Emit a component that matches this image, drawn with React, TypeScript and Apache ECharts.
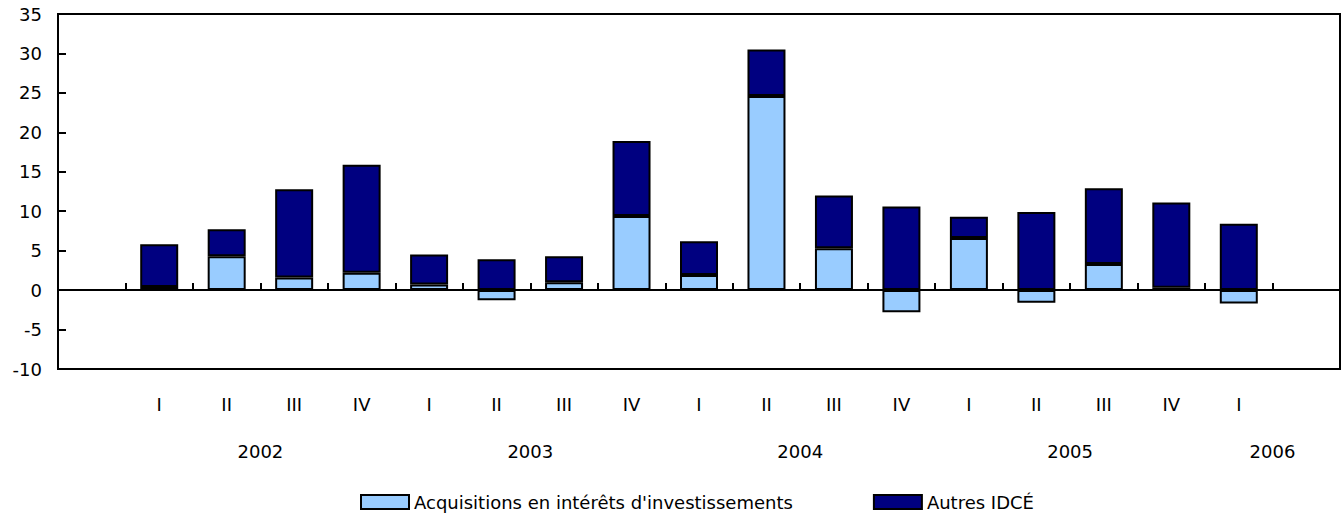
import React, { useEffect, useRef } from "react";
import * as echarts from "echarts";

const CATEGORIES = ["I", "II", "III", "IV", "I", "II", "III", "IV", "I", "II", "III", "IV", "I", "II", "III", "IV", "I"];
const YEARS = ["2002", "2003", "2004", "2005", "2006"];
const QUARTERS_PER_YEAR = [4, 4, 4, 4, 1];
const ACQUISITIONS = [0.4, 4.3, 1.6, 2.2, 0.7, -1.3, 1.0, 9.4, 1.9, 24.6, 5.3, -2.8, 6.6, -1.6, 3.3, 0.3, -1.7];
const AUTRES = [5.4, 3.4, 11.2, 13.7, 3.8, 3.9, 3.3, 9.5, 4.3, 5.9, 6.7, 10.6, 2.7, 9.9, 9.6, 10.8, 8.4];
const SERIES_NAMES = ["Acquisitions en intérêts d'investissements", "Autres IDCÉ"];
const Y_MIN = -10;
const Y_MAX = 35;
const Y_STEP = 5;

const FONT = "DejaVu Sans";
const FS = 18;

export default function App() {
  const ref = useRef<HTMLDivElement>(null);

  useEffect(() => {
    document.body.style.margin = "0";
    const chart = echarts.init(ref.current!, null, { renderer: "svg" });

    const pad = 1;
    const cats = ["", ...CATEGORIES, ""];
    const total = cats.length;
    const padData = (arr: number[]) => ["-", ...arr, "-"];

    // year label centres on a value axis spanning the category count
    const yearCentres: { pos: number; label: string }[] = [];
    let start = pad;
    QUARTERS_PER_YEAR.forEach((n, i) => {
      const end = i === QUARTERS_PER_YEAR.length - 1 ? total : start + n;
      yearCentres.push({ pos: (start + end) / 2, label: YEARS[i] });
      start += n;
    });

    chart.setOption({
      animation: false,
      textStyle: { fontFamily: FONT, color: "#000" },
      grid: {
        left: 58,
        right: 2,
        top: 14,
        bottom: 145,
        show: true,
        borderColor: "#000",
        borderWidth: 2,
      },
      legend: {
        left: 355,
        top: 488,
        itemWidth: 48,
        itemHeight: 14,
        itemGap: 80,
        icon: "rect",
        textStyle: { fontFamily: FONT, fontSize: FS, color: "#000" },
        data: SERIES_NAMES,
      },
      xAxis: [
        {
          type: "category",
          data: cats,
          boundaryGap: true,
          axisLine: { show: true, lineStyle: { color: "#000", width: 2 } },
          axisTick: { show: true, inside: true, length: 7, interval: 0, lineStyle: { color: "#000", width: 2 } },
          axisLabel: { interval: 0, margin: 26, fontFamily: FONT, fontSize: FS, color: "#000" },
          splitLine: { show: false },
        },
        {
          type: "value",
          position: "bottom",
          min: 0,
          max: total,
          interval: 0.5,
          axisLine: { show: false },
          axisTick: { show: false },
          splitLine: { show: false },
          axisLabel: {
            margin: 73,
            fontFamily: FONT,
            fontSize: FS,
            color: "#000",
            showMinLabel: true,
            showMaxLabel: true,
            formatter: (v: number) => {
              const f = yearCentres.find((y) => Math.abs(y.pos - v) < 0.01);
              return f ? f.label : "";
            },
          },
        },
      ],
      yAxis: {
        type: "value",
        min: Y_MIN,
        max: Y_MAX,
        interval: Y_STEP,
        axisLine: { show: true, lineStyle: { color: "#000", width: 2 } },
        axisTick: { show: true, inside: true, length: 8, lineStyle: { color: "#000", width: 2 } },
        axisLabel: { margin: 16, fontFamily: FONT, fontSize: FS, color: "#000" },
        splitLine: { show: false },
      },
      series: [
        {
          name: SERIES_NAMES[0],
          type: "bar",
          stack: "total",
          xAxisIndex: 0,
          barWidth: 38,
          data: padData(ACQUISITIONS),
          itemStyle: { color: "#99CCFF", borderColor: "#000", borderWidth: 2 },
          markLine: {
            silent: true,
            symbol: "none",
            label: { show: false },
            lineStyle: { color: "#000", width: 2, type: "solid" },
            data: [{ yAxis: 0 }],
          },
        },
        {
          name: SERIES_NAMES[1],
          type: "bar",
          stack: "total",
          xAxisIndex: 0,
          barWidth: 38,
          data: padData(AUTRES),
          itemStyle: { color: "#000080", borderColor: "#000", borderWidth: 2 },
        },
      ],
    });

    return () => chart.dispose();
  }, []);

  return <div ref={ref} style={{ width: 1343, height: 514 }} />;
}
